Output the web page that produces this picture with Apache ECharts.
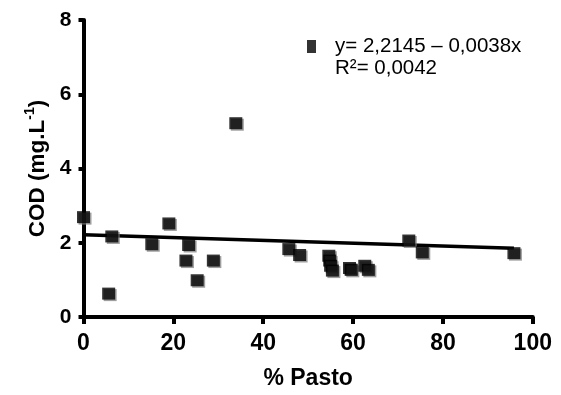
<!DOCTYPE html>
<html>
<head>
<meta charset="utf-8">
<script src="https://cdn.jsdelivr.net/npm/echarts@6/dist/echarts.min.js"></script>
<style>
  html, body { margin: 0; padding: 0; background: #fff; }
  #chart { width: 561px; height: 395px; }
</style>
</head>
<body>
<div id="chart"></div>
<script>
// % pasture (x) vs COD (y)
const pasto = [0, 5.6, 6.3, 15.2, 19.0, 22.8, 23.4, 25.3, 28.9, 33.9, 45.7, 48.1,
  54.6, 54.8, 55.0, 55.4, 59.2, 59.6, 62.6, 63.4, 72.4, 75.4, 95.8];
const cod = [2.69, 0.63, 2.17, 1.96, 2.52, 1.52, 1.94, 0.99, 1.52, 5.22, 1.83, 1.67,
  1.65, 1.52, 1.38, 1.25, 1.32, 1.27, 1.38, 1.27, 2.06, 1.74, 1.72];

// fitted line as printed in the legend
const intercept = 2.2145;
const slope = -0.0038;
const fitX = [0, 95.8];

const xTicks = [0, 20, 40, 60, 80, 100];
const yTicks = [0, 2, 4, 6, 8];

const eqText = 'y= 2,2145 \u2013 0,0038x';
const r2Text = 'R\u00b2= 0,0042';

const font = '"Liberation Sans", Arial, Helvetica, sans-serif';

const chart = echarts.init(document.getElementById('chart'));

const option = {
  backgroundColor: '#fff',
  animation: false,
  textStyle: { fontFamily: font },
  grid: { left: 83.5, right: 28.2, top: 20, bottom: 74.5 },
  legend: {
    data: [eqText],
    left: 302,
    top: 31,
    icon: 'rect',
    itemWidth: 9,
    itemHeight: 13,
    textStyle: { fontFamily: font, fontSize: 20.5, color: '#000', padding: [0, 0, 0, 14] }
  },
  graphic: [
    {
      type: 'text',
      left: 335,
      top: 58,
      style: { text: r2Text, font: '20.5px ' + font, fill: '#000' }
    }
  ],
  xAxis: {
    type: 'value',
    min: xTicks[0],
    max: xTicks[xTicks.length - 1],
    interval: 20,
    name: '% Pasto',
    nameLocation: 'middle',
    nameGap: 50,
    nameTextStyle: { fontFamily: font, fontSize: 23, fontWeight: 'bold', color: '#000' },
    axisLine: { onZero: false, lineStyle: { color: '#000', width: 4 } },
    axisTick: { show: true, length: 7, lineStyle: { color: '#000', width: 4 } },
    axisLabel: { margin: 15, fontFamily: font, fontSize: 23, fontWeight: 'bold', color: '#000' },
    splitLine: { show: false }
  },
  yAxis: {
    type: 'value',
    min: yTicks[0],
    max: yTicks[yTicks.length - 1],
    interval: 2,
    name: '{a|COD (mg.L}{s|-1}{a|)}',
    nameLocation: 'middle',
    nameRotate: 90,
    nameGap: 32,
    nameTextStyle: {
      rich: {
        a: { fontFamily: font, fontSize: 22.5, fontWeight: 'bold', color: '#000', lineHeight: 26, verticalAlign: 'bottom' },
        s: { fontFamily: font, fontSize: 14, fontWeight: 'bold', color: '#000', verticalAlign: 'top', lineHeight: 26 }
      }
    },
    axisLine: { show: true, onZero: false, lineStyle: { color: '#000', width: 4 } },
    axisTick: { show: true, length: 5, lineStyle: { color: '#000', width: 4 } },
    axisLabel: { margin: 12, fontFamily: font, fontSize: 21, fontWeight: 'bold', color: '#000' },
    splitLine: { show: false }
  },
  series: [
    {
      name: 'fit',
      type: 'line',
      data: fitX.map(x => [x, intercept + slope * x]),
      showSymbol: false,
      symbol: 'none',
      lineStyle: { color: '#000', width: 3.5 },
      z: 2,
      silent: true
    },
    {
      name: eqText,
      type: 'scatter',
      data: pasto.map((x, i) => [x, cod[i]]),
      symbol: 'rect',
      symbolSize: [13, 12],
      clip: false,
      itemStyle: {
        color: '#000',
        shadowColor: 'rgba(120,120,120,0.9)',
        shadowOffsetX: 1.5,
        shadowOffsetY: 1.5,
        shadowBlur: 0
      },
      z: 3
    }
  ]
};

chart.setOption(option);
</script>
</body>
</html>
